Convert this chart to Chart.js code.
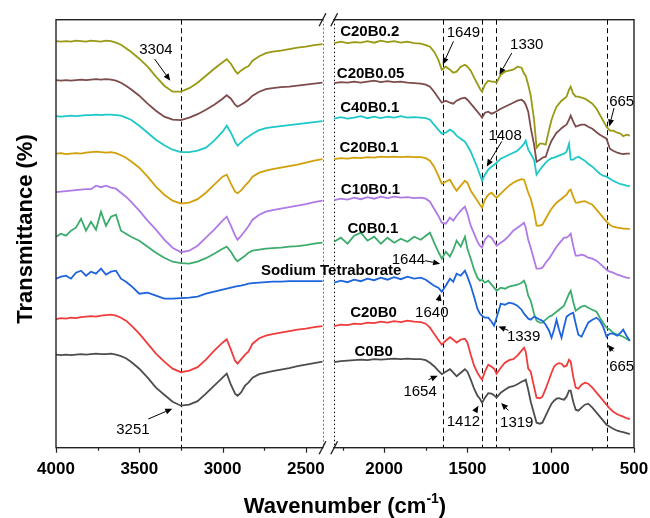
<!DOCTYPE html>
<html>
<head>
<meta charset="utf-8">
<script src="https://cdn.jsdelivr.net/npm/chart.js@4.4.1/dist/chart.umd.min.js"></script>
<style>
  html, body { margin: 0; padding: 0; background: #fff; }
  canvas { display: block; }
</style>
</head>
<body>
<canvas id="ftirChart" width="650" height="518"></canvas>
<script>
// wavenumbers (cm-1): left part of the broken axis, then the right part
const wavenumbers = [
  4000, 3970, 3940, 3910, 3880, 3850, 3820, 3790, 3760, 3730, 3700, 3670, 3640, 3610, 3580, 3550,
  3500, 3450, 3400, 3350, 3300, 3250, 3200, 3150, 3100, 3050,
  3000, 2975, 2950, 2925, 2910, 2890, 2865, 2845, 2820, 2780,
  2740, 2700, 2650, 2600, 2550, 2500, 2450, 2400,
  2300, 2260, 2220, 2180, 2140, 2100, 2060, 2020, 1980, 1940, 1900, 1860, 1820, 1780,
  1750, 1725, 1700, 1675, 1654, 1630, 1605, 1585, 1565, 1540,
  1515, 1500, 1480, 1460, 1440, 1425, 1412, 1395, 1375, 1355,
  1340, 1325, 1300, 1275, 1250, 1225, 1200, 1175, 1160, 1150,
  1135, 1120, 1100, 1085, 1065, 1050, 1030, 1010, 995, 980,
  965, 950, 935, 920, 905, 890, 880, 865, 850, 834,
  815, 795, 775, 750, 725, 705, 685, 665, 645, 625,
  600, 580, 565, 545, 525
];

// transmittance (offset, arbitrary units) for each sample
const c0b0 = [
  93, 92.5, 93, 92.5, 93, 93.5, 93, 93.5, 94, 93.5, 93.5, 94, 93, 91.5, 89.5, 86,
  79, 70, 60, 53, 46, 42, 43, 46.5, 54, 62,
  70, 74, 63, 54, 52, 55, 62, 65, 70, 73.5,
  75, 76.5, 78, 79.5, 81.5, 83, 84.5, 86,
  85.5, 86.5, 87, 87.5, 88, 87.5, 88.5, 88, 88.5, 89, 88.5, 89, 88.5, 88.5,
  87.5, 85, 81.5, 77, 73.5, 76, 78.5, 75, 71.5, 75,
  78.5, 76, 68, 59, 52, 49, 45, 50, 54.5, 54,
  52.5, 50, 55, 58, 60.5, 61.5, 63.5, 66, 67, 68,
  58, 46, 34, 25, 24, 25, 32, 39, 44, 47,
  49, 49.5, 48.5, 48, 51, 57, 57, 46, 38, 37,
  40, 43, 44, 40, 35, 31, 27, 23, 21, 19,
  17, 16, 15.5, 14.5, 13.5
];
const c20b0 = [
  128.5, 129.5, 129, 130, 129.5, 130.5, 131, 131.5, 131, 132, 132.5, 133, 132, 130, 127, 122.5,
  114, 104, 94, 86, 79, 75.5, 77, 80.5, 88, 97,
  105, 108.5, 98, 87, 84, 88, 93, 96, 104, 109.5,
  112, 113.5, 115, 116.5, 118, 119, 120.5, 121.5,
  121.5, 123, 122.5, 124, 123.5, 125, 124.5, 126, 125, 126.5, 125.5, 127, 126, 125.5,
  124, 120, 114, 108, 103, 107, 110.5, 108, 105, 108,
  109, 105, 93, 82, 75, 71, 68, 76, 83, 81,
  79, 74, 80, 85, 87.5, 88.5, 92, 97, 100, 96,
  79, 76, 61, 50, 49.5, 51, 59, 68, 75, 81,
  83.5, 84.5, 84, 81, 82, 88, 86, 71, 60, 59,
  63, 65, 64, 60, 55, 51, 47, 43, 39, 36,
  33.5, 32, 31, 29.5, 28.5
];
const sodiumTetraborate = [
  169, 171, 172, 169, 175, 177, 172, 176, 174, 179, 173, 176, 177, 169, 166, 162,
  154, 155, 152, 149, 149, 149.5, 150, 151, 154, 156,
  158, 159, 160, 161, 161.5, 162, 163, 164, 164.5, 165,
  165.5, 166, 166, 166.5, 166.5, 166.5, 166.5, 166.5,
  165, 167, 165.5, 168, 166.5, 169, 167.5, 170, 168, 170.5, 168.5, 171, 169, 170,
  168, 165, 162, 160, 156, 162, 169, 166, 174, 172,
  177, 171, 162, 151, 139, 134, 132, 130, 130, 126,
  122, 130, 144, 143, 145, 144, 142, 138, 134, 132,
  129, 128, 131, 130, 128, 127, 123, 117, 110, 118,
  128, 118, 110, 121, 131, 133, 134, 135, 124, 113,
  111, 118, 125, 128, 130, 127, 121, 111, 114, 114,
  112, 115, 118, 112, 107
];
const c0b01 = [
  211, 214, 212, 217, 220, 229, 217, 226, 218, 236, 222, 231, 233, 217, 214, 211,
  207, 201, 195, 190, 186, 184.5, 184, 186, 189.5, 194,
  199, 201, 196, 189, 186.5, 189, 192, 195, 197, 198,
  199, 199.5, 200, 201, 201.5, 202.5, 204, 205,
  206, 210, 204, 212, 215, 207, 211, 204, 210, 205, 209, 206, 211, 208,
  212, 215, 205, 196, 189, 196, 191, 198, 207, 201,
  211, 199, 189, 178, 170, 167, 168, 165, 167, 163,
  160, 157, 160, 159, 161, 162, 163, 165, 167, 163,
  152, 147, 134, 127, 125, 125, 128, 131, 132, 134,
  136, 138, 140, 142, 148, 154, 157, 146, 137, 139,
  141, 142, 140, 138, 136, 130, 125, 120, 118, 115,
  113, 112, 111, 109, 107
];
const c10b01 = [
  255.5, 256, 256.5, 257, 257.5, 258, 258.5, 258.5, 262, 260.5, 262, 260, 259, 255, 251, 246,
  237, 227, 218, 208, 200, 195.5, 197, 202, 210, 218,
  227, 231, 222, 212, 208, 211.5, 217, 221.5, 228, 233,
  236, 237.5, 239, 240.5, 242, 243.5, 245.5, 247,
  247.5, 249, 248, 250, 248.5, 250.5, 249, 251, 249.5, 251, 250, 250.5, 249.5, 250,
  249, 246, 239, 232, 225, 224, 230, 227, 232, 237,
  241, 234, 222, 214, 206, 202, 200, 208, 212, 210,
  206, 202, 205, 208, 212, 217, 220, 223, 225, 220,
  208, 200, 188, 179, 179, 180, 185, 189, 193, 197,
  201, 204, 207, 210, 210, 212, 214, 202, 192, 192,
  193, 192, 190, 189, 187, 184, 181, 178, 176, 175,
  173, 172, 171, 170, 169.5
];
const c20b01 = [
  294, 294.5, 293.5, 294, 294.5, 294, 295, 295.5, 296, 295.5, 295, 295.5, 294.5, 292.5, 290, 286.5,
  280, 271, 261, 253, 247, 244, 245, 248.5, 255, 263,
  271, 273, 264, 256, 254.5, 257, 262, 265.5, 271, 275,
  277, 278.5, 280, 281.5, 283, 285, 287, 288.5,
  288.5, 289.5, 289, 290, 289.5, 290.5, 290, 291, 290.5, 291, 290.5, 291, 290.5, 290.5,
  289.5, 287, 281, 272, 264, 266, 268, 262, 257, 262,
  267, 265, 257, 252, 247, 243, 240, 248, 253, 255,
  252, 250, 254, 258, 262, 265, 267, 268.5, 268, 263,
  255, 249, 236, 222, 222, 223, 229, 235, 239, 242,
  245, 247, 249, 251, 253, 257, 258, 251, 245, 245,
  246, 246.5, 245, 243, 238, 234, 230, 226, 223, 221,
  220, 219.5, 219, 219, 218.5
];
const c40b01 = [
  331.5, 331, 331.5, 332, 331.5, 332, 332.5, 332.5, 333, 332.5, 333, 333, 332.5, 332, 330, 328,
  322, 315, 308, 302.5, 298, 295.5, 295.5, 297, 300, 307,
  316, 322, 315, 306, 302, 305, 309, 311, 314, 317.5,
  319.5, 320.5, 321.5, 322.5, 323.5, 324.5, 325.5, 326.5,
  329, 330.5, 329, 330, 331.5, 329.5, 331, 329.5, 331, 330, 331.5, 330, 330.5, 330,
  329.5, 328, 323, 318, 314, 315, 318, 316, 312, 309,
  306, 302, 296, 288, 280, 273, 267, 273, 278, 281,
  283, 285, 289, 291, 293, 295, 297, 301, 304, 307,
  298, 294, 288, 273, 278, 281, 285, 288, 289.5, 290,
  291, 292, 293, 294, 296, 304, 288, 288, 290, 291,
  289, 287, 284, 281, 277, 274, 272, 271, 269, 267,
  265, 263.5, 263, 262, 261.5
];
const c20b005 = [
  367.5, 367, 367.5, 367, 367.5, 368, 367.5, 368, 368.5, 368, 368.5, 368, 367, 365, 362, 358.5,
  352, 344, 337, 331, 328, 327.5, 330, 333.5, 338, 343,
  349, 352.5, 349, 343, 341, 343, 345.5, 348, 352, 356,
  358.5, 359.5, 360.5, 361, 362, 363, 364, 365,
  364.5, 365.5, 365, 366, 365, 366, 367, 365.5, 366.5, 365.5, 366, 365, 364.5, 364,
  363, 361, 356, 350, 345, 347, 345, 344, 347, 349,
  350, 348, 344, 340, 336, 333, 330, 335, 336, 334,
  335, 336.5, 339, 341, 343, 345, 347, 348, 346, 343,
  336, 320, 303, 286, 288, 290, 291, 301, 307, 311,
  315, 317, 319.5, 321.5, 323, 328, 332, 326, 321, 322,
  323, 323, 321, 319, 315.5, 313, 311, 309, 299, 297,
  295, 294, 293.5, 294, 294
];
const c20b02 = [
  406.5, 406, 406.5, 406, 407, 406.5, 406, 407, 406.5, 406, 407, 406.5, 405, 403, 399.5, 396,
  389, 381, 371, 362, 356, 356, 359.5, 365, 372, 379,
  385.5, 388.5, 384, 377, 374, 377, 380, 381.5, 387, 391.5,
  394.5, 396, 397, 398.5, 400, 401, 402.5, 403.5,
  404.5, 406, 404.5, 405.5, 405, 406.5, 405, 407, 405.5, 406.5, 405, 406, 404.5, 404,
  402.5, 401, 396, 388, 378, 381, 378, 375, 376, 381,
  383, 381, 377, 370, 364, 359, 356, 363, 367, 366,
  366, 365, 373, 376, 377, 378, 381, 380, 374, 372,
  363, 352, 328, 300, 304, 304, 303, 318, 328, 335,
  341, 344, 347, 349, 351, 358, 361, 354, 351, 351,
  350, 349, 347, 344, 339, 333, 327, 321, 317, 317,
  315, 314, 311.5, 313, 312
];

const sampleNames = ['C0B0', 'C20B0', 'Sodium Tetraborate', 'C0B0.1', 'C10B0.1',
  'C20B0.1', 'C40B0.1', 'C20B0.05', 'C20B0.2'];
const sampleValues = [c0b0, c20b0, sodiumTetraborate, c0b01, c10b01,
  c20b01, c40b01, c20b005, c20b02];
const sampleColors = ['#4d4d4d', '#f03c3c', '#1e64dc', '#3cac6c', '#b07ae6',
  '#d1a00a', '#1ec8c8', '#7d4b4b', '#999914'];

// x-axis ticks (cm-1) and marked bands
const tickWavenumbers = [4000, 3750, 3500, 3250, 3000, 2750, 2500,
  2250, 2000, 1750, 1500, 1250, 1000, 750, 500];
const markedBands = [3251, 1649, 1412, 1330, 665];

// broken axis: 2400-2300 is cut out
const BREAK_HIGH = 2400, BREAK_LOW = 2300, BREAK_SHIFT = 30;
function toAxis(w) { return w >= BREAK_HIGH ? w - BREAK_SHIFT : w; }
function fromAxis(u) { return u >= BREAK_HIGH - BREAK_SHIFT ? u + BREAK_SHIFT : u; }

// label positions in data units (wavenumber, transmittance)
const curveLabels = [
  { text: 'C20B0.2', w: 2264, v: 416 },
  { text: 'C20B0.05', w: 2284, v: 374 },
  { text: 'C40B0.1', w: 2264, v: 339.7 },
  { text: 'C20B0.1', w: 2268, v: 299.7 },
  { text: 'C10B0.1', w: 2260, v: 258 },
  { text: 'C0B0.1', w: 2220, v: 218.7 },
  { text: 'Sodium Tetraborate', w: 2770, v: 177.3 },
  { text: 'C20B0', w: 2204, v: 135.3 },
  { text: 'C0B0', w: 2178, v: 96.3 }
];
const peakNotes = [
  { text: '3304', w: 3400, v: 398, from: [3408, 388.7], to: [3314, 367] },
  { text: '3251', w: 3538, v: 18, from: [3446, 28.7], to: [3302, 39] },
  { text: '1649', w: 1524, v: 414.7, from: [1584, 406.3], to: [1648, 383] },
  { text: '1330', w: 1144, v: 403, from: [1234, 394.7], to: [1308, 373] },
  { text: '665', w: 574, v: 346.3, from: [620, 339.7], to: [648, 321.3] },
  { text: '1408', w: 1274, v: 312, from: [1294, 306.3], to: [1384, 281.3] },
  { text: '1644', w: 1854, v: 188, from: [1754, 187], to: [1664, 184] },
  { text: '1640', w: 1714, v: 135.3, from: [1674, 146.3], to: [1664, 154] },
  { text: '1339', w: 1163, v: 111.3, from: [1254, 117.3], to: [1314, 121.3] },
  { text: '665', w: 574, v: 80.7, from: [624, 96.3], to: [658, 103] },
  { text: '1654', w: 1784, v: 56.3, from: [1734, 68], to: [1678, 72] },
  { text: '1412', w: 1524, v: 26.3, from: [1454, 36.3], to: [1434, 42] },
  { text: '1319', w: 1204, v: 24.7, from: [1254, 37.3], to: [1298, 44.7] }
];

function buildPoints(values) {
  var pts = [];
  wavenumbers.forEach(function (w, i) {
    if (w === BREAK_LOW) pts.push({ x: (BREAK_LOW + BREAK_HIGH - BREAK_SHIFT) / 2, y: null });
    pts.push({ x: toAxis(w), y: values[i] });
  });
  return pts;
}

var FONT = "Arial, 'Liberation Sans', sans-serif";

function drawArrow(ctx, x1, y1, x2, y2) {
  var ang = Math.atan2(y2 - y1, x2 - x1);
  var c = Math.cos(ang), s = Math.sin(ang);
  var head = 7, half = 3;
  ctx.beginPath();
  ctx.moveTo(x1, y1);
  ctx.lineTo(x2 - head * c, y2 - head * s);
  ctx.stroke();
  ctx.beginPath();
  ctx.moveTo(x2, y2);
  ctx.lineTo(x2 - head * c + half * s, y2 - head * s - half * c);
  ctx.lineTo(x2 - head * c - half * s, y2 - head * s + half * c);
  ctx.closePath();
  ctx.fill();
}

var decor = {
  id: 'decor',
  beforeDatasetsDraw: function (chart) {
    var ctx = chart.ctx, a = chart.chartArea, x = chart.scales.x;
    ctx.save();
    ctx.strokeStyle = '#000';
    ctx.lineWidth = 1;
    ctx.setLineDash([5, 3.5]);
    markedBands.forEach(function (w) {
      var px = Math.round(x.getPixelForValue(toAxis(w))) + 0.5;
      ctx.beginPath(); ctx.moveTo(px, a.top); ctx.lineTo(px, a.bottom); ctx.stroke();
    });
    // dotted lines at the ends of the break
    var b1 = Math.round(x.getPixelForValue(toAxis(BREAK_HIGH))) + 0.5;
    var b2 = Math.round(x.getPixelForValue(BREAK_LOW)) + 0.5;
    ctx.strokeStyle = '#777';
    ctx.setLineDash([2, 2]);
    ctx.beginPath(); ctx.moveTo(b1, a.top); ctx.lineTo(b1, a.bottom); ctx.stroke();
    ctx.strokeStyle = '#000';
    ctx.setLineDash([1.5, 2.5]);
    ctx.beginPath(); ctx.moveTo(b2, a.top); ctx.lineTo(b2, a.bottom); ctx.stroke();
    ctx.restore();
  },
  afterDatasetsDraw: function (chart) {
    var ctx = chart.ctx, a = chart.chartArea, x = chart.scales.x, y = chart.scales.y;
    var b1 = x.getPixelForValue(toAxis(BREAK_HIGH));
    var b2 = x.getPixelForValue(BREAK_LOW);
    ctx.save();
    // frame
    ctx.strokeStyle = '#222';
    ctx.lineWidth = 1.4;
    ctx.strokeRect(a.left, a.top, a.right - a.left, a.bottom - a.top);
    ctx.fillStyle = '#fff';
    ctx.fillRect(b1 + 1, a.top - 2, b2 - b1 - 2, 4);
    ctx.fillRect(b1 + 1, a.bottom - 2, b2 - b1 - 2, 4);
    // break marks
    [a.top, a.bottom].forEach(function (yy) {
      [b1, b2].forEach(function (bx) {
        ctx.beginPath();
        ctx.moveTo(bx - 3.4, yy + 6.5);
        ctx.lineTo(bx + 3.4, yy - 6.5);
        ctx.stroke();
      });
    });
    // tick marks
    ctx.lineWidth = 1.2;
    tickWavenumbers.forEach(function (t) {
      var px = Math.round(x.getPixelForValue(toAxis(t))) + 0.5;
      var len = t % 500 === 0 ? 5 : 3;
      ctx.beginPath(); ctx.moveTo(px, a.bottom); ctx.lineTo(px, a.bottom + len); ctx.stroke();
    });
    // curve labels
    ctx.fillStyle = '#000';
    ctx.font = 'bold 15px ' + FONT;
    ctx.textAlign = 'left';
    ctx.textBaseline = 'middle';
    curveLabels.forEach(function (l) {
      ctx.fillText(l.text, x.getPixelForValue(toAxis(l.w)), y.getPixelForValue(l.v));
    });
    // peak notes with arrows
    ctx.font = '15px ' + FONT;
    ctx.textAlign = 'center';
    ctx.strokeStyle = '#000';
    ctx.lineWidth = 1;
    peakNotes.forEach(function (n) {
      ctx.fillText(n.text, x.getPixelForValue(toAxis(n.w)), y.getPixelForValue(n.v));
      drawArrow(ctx,
        x.getPixelForValue(toAxis(n.from[0])), y.getPixelForValue(n.from[1]),
        x.getPixelForValue(toAxis(n.to[0])), y.getPixelForValue(n.to[1]));
    });
    // axis titles
    var main = 'Wavenumber (cm', sup = '-1', tail = ')';
    ctx.font = 'bold 22px ' + FONT;
    var wMain = ctx.measureText(main).width, wTail = ctx.measureText(tail).width;
    ctx.font = 'bold 14px ' + FONT;
    var wSup = ctx.measureText(sup).width;
    var total = wMain + wSup + wTail;
    var sx = (a.left + a.right) / 2 - total / 2, ty = 507;
    ctx.textAlign = 'left';
    ctx.font = 'bold 22px ' + FONT;
    ctx.fillText(main, sx, ty);
    ctx.fillText(tail, sx + wMain + wSup, ty);
    ctx.font = 'bold 14px ' + FONT;
    ctx.fillText(sup, sx + wMain, ty - 8);

    ctx.translate(26, 229);
    ctx.rotate(-Math.PI / 2);
    ctx.textAlign = 'center';
    ctx.font = 'bold 22px ' + FONT;
    ctx.fillText('Transmittance (%)', 0, 0);
    ctx.restore();
  }
};

var ctx = document.getElementById('ftirChart');
var chart = new Chart(ctx, {
  type: 'line',
  data: {
    datasets: sampleNames.map(function (name, i) {
      return {
        label: name,
        data: buildPoints(sampleValues[i]),
        borderColor: sampleColors[i],
        borderWidth: 1.8,
        pointRadius: 0,
        tension: 0,
        fill: false
      };
    })
  },
  options: {
    responsive: false,
    animation: false,
    events: [],
    layout: { padding: { left: 56, right: 16, top: 19.7, bottom: 0 } },
    plugins: { legend: { display: false }, tooltip: { enabled: false } },
    scales: {
      x: {
        type: 'linear',
        reverse: true,
        min: 500,
        max: 3970,
        grid: { display: false, drawTicks: false },
        border: { display: false },
        afterBuildTicks: function (s) {
          s.ticks = tickWavenumbers.map(function (t) { return { value: toAxis(t) }; });
        },
        afterFit: function (s) {
          s.height = 70.3;
          s.paddingLeft = 0;
          s.paddingRight = 0;
        },
        ticks: {
          autoSkip: false,
          maxRotation: 0,
          padding: 11,
          color: '#000',
          font: { family: FONT, size: 17, weight: 'bold' },
          callback: function (v) {
            var w = Math.round(fromAxis(v));
            return w % 500 === 0 ? String(w) : '';
          }
        }
      },
      y: {
        display: false,
        min: 0,
        max: 428
      }
    }
  },
  plugins: [decor]
});
</script>
</body>
</html>
